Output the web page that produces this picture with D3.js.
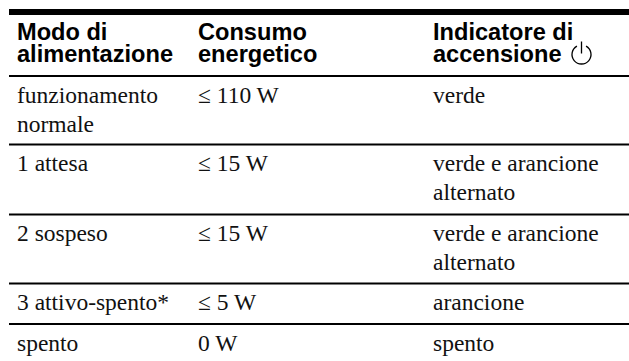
<!DOCTYPE html>
<html>
<head>
<meta charset="utf-8">
<script src="https://cdn.jsdelivr.net/npm/d3@7"></script>
<style>
	html, body { margin: 0; padding: 0; background: #fff; overflow: hidden; }
	.head { font-family: "Liberation Sans", Arial, sans-serif; font-weight: bold; font-size: 23.6px; fill: #000; }
	.cell { font-family: "Liberation Serif", "Times New Roman", serif; font-size: 23.5px; fill: #111; }
	.rule { stroke: #000; }
</style>
</head>
<body>
<script>
// table content
var headers = [
	["Modo di", "alimentazione"],
	["Consumo", "energetico"],
	["Indicatore di", "accensione"]
];
var modes = [["funzionamento", "normale"], ["1 attesa"], ["2 sospeso"], ["3 attivo-spento*"], ["spento"]];
var power = [["≤ 110 W"], ["≤ 15 W"], ["≤ 15 W"], ["≤ 5 W"], ["0 W"]];
var lights = [["verde"], ["verde e arancione", "alternato"], ["verde e arancione", "alternato"], ["arancione"], ["spento"]];

var width = 629,
	height = 361;

// column left edges
var colX = [17, 198, 433];
// horizontal rules under each row, top rule first
var ruleY = [12, 76, 144.5, 214.5, 283.5, 324];
var ruleW = [6, 2, 2, 2, 2, 2];
var lineGap = 29;

var svg = d3.select("body")
	.append("svg")
	.attr("width", width)
	.attr("height", height);

svg.selectAll(".rule")
	.data(ruleY)
	.enter()
	.append("line")
	.attr("class", "rule")
	.attr("x1", 9)
	.attr("x2", width)
	.attr("y1", function (d){ return d; })
	.attr("y2", function (d){ return d; })
	.attr("stroke-width", function (d, i){ return ruleW[i]; });

// header
headers.forEach(function (lines, c){
	lines.forEach(function (t, l){
		svg.append("text")
			.attr("class", "head")
			.attr("x", colX[c])
			.attr("y", 39.5 + l * 22.5)
			.text(t);
	});
});

// body columns, first baseline sits a fixed distance below the rule above
[modes, power, lights].forEach(function (col, c){
	col.forEach(function (lines, r){
		lines.forEach(function (t, l){
			svg.append("text")
				.attr("class", "cell")
				.attr("x", colX[c])
				.attr("y", ruleY[r + 1] + 26.5 + l * lineGap)
				.text(t);
		});
	});
});

// power symbol next to the last header word
var icon = svg.append("g")
	.attr("transform", "translate(581.5,54.5)")
	.attr("fill", "none")
	.attr("stroke", "#000")
	.attr("stroke-width", 1.3);
icon.append("path")
	.attr("d", d3.arc()({ innerRadius: 9.5, outerRadius: 9.5, startAngle: 0.5, endAngle: 2 * Math.PI - 0.5 }));
icon.append("line")
	.attr("x1", 0).attr("x2", 0)
	.attr("y1", -13).attr("y2", -1);
</script>
</body>
</html>
